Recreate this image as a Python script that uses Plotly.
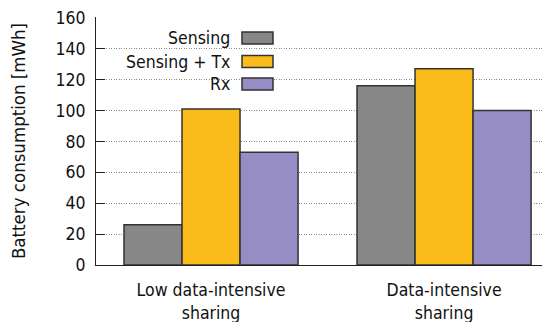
import plotly.graph_objects as go

categories = ["Low data-intensive<br>sharing", "Data-intensive<br>sharing"]
series_names = ["Sensing", "Sensing + Tx", "Rx"]
sensing = [26, 116]
sensing_tx = [101, 127]
rx = [73, 100]
colors = ["#878787", "#F9BC1B", "#958DC3"]
y_ticks = [0, 20, 40, 60, 80, 100, 120, 140, 160]

# page has an 8px body margin; figure coordinates = screen - 8
OFF = 8
W, H = 550, 322
L, R, T, B = 96 - OFF, 0, 17 - OFF, H - (265 - OFF)
pw, ph = W - L - R, H - T - B

fig = go.Figure()
for name, vals, col in zip(series_names, [sensing, sensing_tx, rx], colors):
    fig.add_trace(go.Bar(
        x=categories, y=vals, name=name,
        marker=dict(color=col, line=dict(color="#333333", width=1.5)),
        showlegend=False,
    ))

font = "DejaVu Sans Condensed, DejaVu Sans, sans-serif"
fs = 17.5

def px_x(p):
    return (p - OFF - L) / pw

def px_y(p):
    return (H - B - (p - OFF)) / ph

# custom legend (text left of swatch)
leg_y = [38, 61.5, 84]
for name, col, yc in zip(series_names, colors, leg_y):
    fig.add_shape(type="rect", xref="paper", yref="paper",
                  x0=px_x(242), x1=px_x(273), y0=px_y(yc - 6), y1=px_y(yc + 6),
                  fillcolor=col, line=dict(color="#333333", width=1.5))
    fig.add_annotation(xref="paper", yref="paper", x=px_x(232), y=px_y(yc),
                       text=name, showarrow=False, xanchor="right", yanchor="middle",
                       font=dict(family=font, size=fs, color="#111111"))

fig.update_layout(
    width=W, height=H,
    margin=dict(l=L, r=R, t=T, b=B, pad=0, autoexpand=False),
    paper_bgcolor="white", plot_bgcolor="white",
    barmode="group", bargap=0.253, bargroupgap=0,
    font=dict(family=font, size=fs, color="#111111"),
    xaxis=dict(
        type="category", range=[-0.4936, 1.489], automargin=False,
        showline=True, linecolor="#222222", linewidth=1,
        ticks="", showgrid=False, ticklabelstandoff=9,
        tickfont=dict(family=font, size=fs),
    ),
    yaxis=dict(
        range=[0, 160.5], tickvals=y_ticks, automargin=False,
        showline=True, linecolor="#222222", linewidth=1,
        ticks="inside", ticklen=9, tickcolor="#222222",
        showgrid=True, gridcolor="#8c8c8c", griddash="1px,1.5px", gridwidth=1,
        zeroline=False, ticklabeloverflow="allow",
        ticklabelstandoff=6,
        tickfont=dict(family=font, size=fs),
        title=dict(text="Battery consumption [mWh]", standoff=30,
                   font=dict(family=font, size=18.5)),
    ),
)

fig.write_html("out.html")
